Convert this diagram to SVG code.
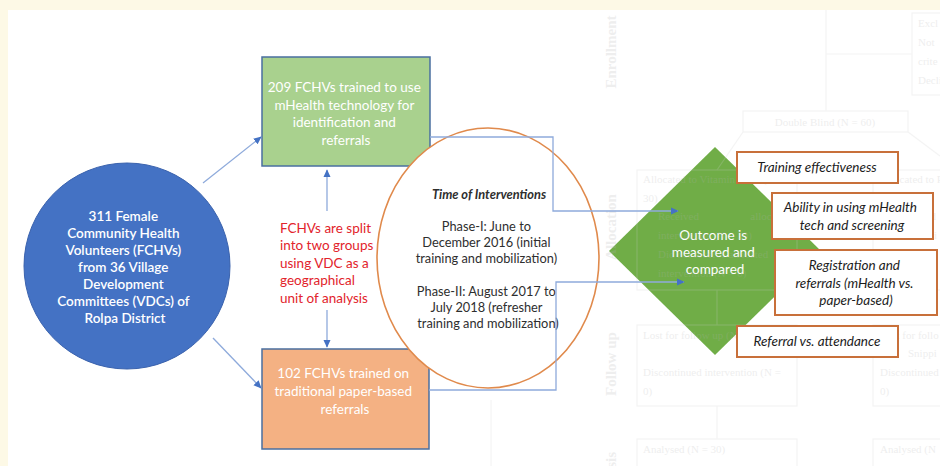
<svg xmlns="http://www.w3.org/2000/svg" width="940" height="466" viewBox="0 0 940 466">
  <defs>
    <marker id="ah" viewBox="0 0 10 10" refX="9" refY="5" markerWidth="8" markerHeight="8" markerUnits="userSpaceOnUse" orient="auto">
      <path d="M0,0.5 L10,5 L0,9.5 z" fill="#4472c4"/>
    </marker>
    <style>
      .sans { font-family: Lato, "Liberation Sans", sans-serif; }
      .wt { fill: #ffffff; font-size: 13.5px; text-anchor: middle; }
      .red { fill: #e2232b; font-size: 13.5px; }
      .ell { fill: #2e2e2e; font-size: 12.8px; text-anchor: middle; }
      .lbl { fill: #1c1c1c; font-size: 13.5px; font-style: italic; text-anchor: middle; }
      .lblbox { fill: #ffffff; stroke: #c8703a; stroke-width: 2; }
      .conn { fill: none; stroke: #8eaadb; stroke-width: 1.3; }
      .ghost text { font-family: "Liberation Serif", serif; font-size: 11px; fill: #b4b4b4; }
      .ghost .side { font-size: 15px; font-weight: bold; }
      .ghost rect, .ghost line { fill: none; stroke: #cfcfcf; stroke-width: 1.2; }
    </style>
  </defs>

  <!-- page background and white panel -->
  <rect x="0" y="0" width="940" height="466" fill="#fdf9e6"/>
  <rect x="8" y="10" width="932" height="456" fill="#ffffff"/>

  <!-- source node: volunteers -->
  <g id="volunteers">
    <circle cx="127" cy="266" r="103" fill="#4472c4" stroke="#3a62ad" stroke-width="1"/>
    <text class="sans wt" font-weight="600" font-size="13">
      <tspan x="125" y="221">311 Female</tspan>
      <tspan x="125" y="238">Community Health</tspan>
      <tspan x="125" y="255">Volunteers (FCHVs)</tspan>
      <tspan x="125" y="272">from 36 Village</tspan>
      <tspan x="125" y="289">Development</tspan>
      <tspan x="125" y="306">Committees (VDCs) of</tspan>
      <tspan x="125" y="323">Rolpa District</tspan>
    </text>
  </g>

  <!-- mHealth group -->
  <g id="mhealth-group">
    <rect x="262" y="57" width="168" height="109" fill="#a9d18e" stroke="#4a6fa0" stroke-width="1.5"/>
    <text class="sans wt">
      <tspan x="346" y="92">209 FCHVs trained to use</tspan>
      <tspan x="346" y="110">mHealth technology for</tspan>
      <tspan x="346" y="127">identification and</tspan>
      <tspan x="346" y="145">referrals</tspan>
    </text>
  </g>

  <!-- paper-based group -->
  <g id="paper-group">
    <rect x="262" y="349" width="167" height="100" fill="#f4b183" stroke="#4a6fa0" stroke-width="1.5"/>
    <text class="sans wt">
      <tspan x="345" y="378">102 FCHVs trained on</tspan>
      <tspan x="345" y="396">traditional paper-based</tspan>
      <tspan x="345" y="414">referrals</tspan>
    </text>
  </g>

  <!-- split note -->
  <g id="split-note">
    <text class="sans red">
      <tspan x="280" y="233">FCHVs are split</tspan>
      <tspan x="280" y="250">into two groups</tspan>
      <tspan x="280" y="268">using VDC as a</tspan>
      <tspan x="280" y="285">geographical</tspan>
      <tspan x="280" y="303">unit of analysis</tspan>
    </text>
  </g>

  <!-- intervention timeline -->
  <g id="interventions">
    <ellipse cx="488" cy="258" rx="111" ry="130" fill="#ffffff" stroke="#e08a4c" stroke-width="1.6"/>
    <text class="sans ell" x="489" y="199" font-weight="bold" font-style="italic" fill="#111111">Time of Interventions</text>
    <text class="sans ell">
      <tspan x="488" y="231">Phase-I: June to</tspan>
      <tspan x="488" y="247">December 2016 (initial</tspan>
      <tspan x="488" y="263">training and mobilization)</tspan>
      <tspan x="488" y="296">Phase-II: August 2017 to</tspan>
      <tspan x="488" y="312">July 2018 (refresher</tspan>
      <tspan x="488" y="328">training and mobilization)</tspan>
    </text>
  </g>

  <!-- outcome -->
  <g id="outcome">
    <polygon points="715,147 821,251 715,355 609,251" fill="#70ad47"/>
    <text class="sans wt" font-size="14.5">
      <tspan x="715" y="240">Outcome is</tspan>
      <tspan x="715" y="257">measured and</tspan>
      <tspan x="715" y="274">compared</tspan>
    </text>
  </g>

  <!-- faint flowchart showing through the page -->
  <g class="ghost" opacity="0.22">
    <text class="side" transform="translate(616,52) rotate(-90)" text-anchor="middle">Enrollment</text>
    <text class="side" transform="translate(616,227) rotate(-90)" text-anchor="middle">Allocation</text>
    <text class="side" transform="translate(616,364) rotate(-90)" text-anchor="middle">Follow up</text>
    <text class="side" transform="translate(616,452) rotate(-90)" text-anchor="end">sis</text>
    <line x1="826" y1="10" x2="826" y2="111"/>
    <line x1="826" y1="54" x2="912" y2="54"/>
    <rect x="912" y="13" width="40" height="82"/>
    <text x="918" y="27">Excl</text>
    <text x="918" y="46">Not</text>
    <text x="918" y="65">crite</text>
    <text x="918" y="84">Decli</text>
    <rect x="743" y="111" width="165" height="21"/>
    <text x="825" y="126" text-anchor="middle">Double Blind (N = 60)</text>
    <line x1="743" y1="132" x2="717" y2="170"/>
    <line x1="908" y1="132" x2="940" y2="156"/>
    <rect x="637" y="170" width="160" height="120"/>
    <text x="643" y="183">Allocated to Vitamin K2-7 (N =</text>
    <text x="643" y="202">30)</text>
    <text x="658" y="220">Received</text>
    <text x="790" y="220" text-anchor="end">allocated</text>
    <text x="658" y="239">intervention (N = 30)</text>
    <text x="658" y="258">Did not receive allocated</text>
    <text x="658" y="277">intervention (N = 0)</text>
    <rect x="873" y="170" width="80" height="120"/>
    <text x="880" y="183">Allocated to P</text>
    <text x="880" y="202">(N = 30)</text>
    <text x="895" y="220">Received</text>
    <text x="895" y="239">interventi</text>
    <text x="895" y="258">Did   not</text>
    <text x="895" y="277">interventi</text>
    <line x1="717" y1="290" x2="717" y2="325"/>
    <rect x="637" y="325" width="160" height="81"/>
    <text x="643" y="339">Lost for follow up (N = 0)</text>
    <text x="643" y="376">Discontinued intervention (N =</text>
    <text x="643" y="395">0)</text>
    <rect x="873" y="325" width="80" height="81"/>
    <text x="880" y="339">Lost for follo</text>
    <text x="908" y="357">Snippi</text>
    <text x="880" y="376">Discontinued</text>
    <text x="880" y="395">0)</text>
    <line x1="717" y1="406" x2="717" y2="439"/>
    <line x1="491" y1="400" x2="491" y2="466"/>
    <rect x="637" y="439" width="160" height="40"/>
    <text x="643" y="453">Analysed (N = 30)</text>
    <rect x="873" y="439" width="80" height="40"/>
    <text x="880" y="453">Analysed (N</text>
  </g>

  <!-- connectors -->
  <g id="connectors">
    <line class="conn" x1="203" y1="183" x2="261" y2="137" marker-end="url(#ah)"/>
    <line class="conn" x1="213" y1="338" x2="261" y2="388" marker-end="url(#ah)"/>
    <line class="conn" x1="327" y1="211" x2="327" y2="170" marker-end="url(#ah)"/>
    <line class="conn" x1="327" y1="310" x2="327" y2="347" marker-end="url(#ah)"/>
    <polyline class="conn" points="430,137 553,137 553,211 678,211" marker-end="url(#ah)"/>
    <polyline class="conn" points="429,390 556,390 556,282 684,282" marker-end="url(#ah)"/>
  </g>

  <!-- outcome measures -->
  <g id="training-effectiveness">
    <rect class="lblbox" x="737" y="152" width="161" height="31"/>
    <text class="sans lbl" x="817" y="172">Training effectiveness</text>
  </g>
  <g id="mhealth-ability">
    <rect class="lblbox" x="772" y="193" width="161" height="46"/>
    <text class="sans lbl">
      <tspan x="852" y="212">Ability in using mHealth</tspan>
      <tspan x="852" y="230">tech and screening</tspan>
    </text>
  </g>
  <g id="registration-referrals">
    <rect class="lblbox" x="775" y="250" width="162" height="65"/>
    <text class="sans lbl">
      <tspan x="856" y="270">Registration and</tspan>
      <tspan x="856" y="288">referrals (mHealth vs.</tspan>
      <tspan x="856" y="305">paper-based)</tspan>
    </text>
  </g>
  <g id="referral-attendance">
    <rect class="lblbox" x="737" y="326" width="161" height="31"/>
    <text class="sans lbl" x="817" y="346">Referral vs. attendance</text>
  </g>
</svg>
